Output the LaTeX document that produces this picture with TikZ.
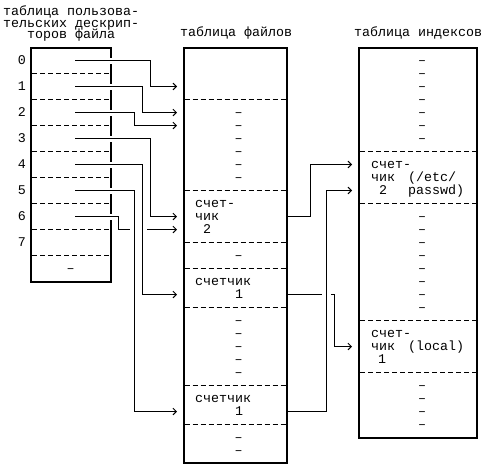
\documentclass[tikz,border=0pt]{standalone}
\usepackage{fontspec}
\setmainfont{Liberation Mono}
\usetikzlibrary{arrows.meta}
\begin{document}
\begin{tikzpicture}[x=0.75pt,y=-0.75pt,
  every node/.style={inner sep=0pt,outer sep=0pt,font=\fontsize{10pt}{12pt}\selectfont},
  txt/.style={anchor=base west},
  dsh/.style={anchor=base},
  border/.style={line width=1.5pt},
  bseg/.style={line width=1.5pt,line cap=rect},
  sep/.style={line width=0.75pt,dash pattern=on 3.75pt off 2.25pt},
  conn/.style={line width=0.75pt},
  arr/.style={conn,-{Straight Barb[length=2.5pt,width=5pt]}}]
\useasboundingbox (0,0) rectangle (485,468);
% ---------- titles ----------
\node[txt] (t1) at (3,15) {таблица пользова-};
\node[txt] (t2) at (3,27) {тельских дескрип-};
\node[txt] (t3) at (27,38.5) {торов файла};
\node[txt] (t4) at (180,36.5) {таблица файлов};
\node[txt] (t5) at (354,36.5) {таблица индексов};
% ---------- left table ----------
\draw[border] (111,48) -- (31,48) -- (31,282) -- (111,282);
\foreach \a/\b in {48/56.5,64.5/82.5,90.5/108.5,116.5/134.5,142.5/160.5,168.5/186.5,194.5/212.5,220.5/282}
  \draw[bseg] (111,\a) -- (111,\b);
\foreach \k in {0,...,7} {
  \draw[sep] (32,73.5+26*\k) -- (110,73.5+26*\k);
  \node[dsh] (n\k) at (22,64.5+26*\k) {\k};
}
\node[dsh] (ld) at (70.5,272) {–};
% ---------- file table ----------
\draw[border] (183.5,48) rectangle (286.5,462.5);
\foreach \y in {99.5,190.5,242.5,268.5,307.5,385.5,424.5}
  \draw[sep] (184.5,\y) -- (285.5,\y);
\foreach \y [count=\i] in {112.5,125.5,138.5,151.5,164.5,177.5,255.5,320.5,333.5,346.5,359.5,372.5,437.5,450.5}
  \node[dsh] (fd\i) at (238.5,\y+3.5) {–};
\node[txt] (fa1) at (195,207) {счет-};
\node[txt] (fa2) at (195,220) {чик};
\node[txt] (fa3) at (203,233.5) {2};
\node[txt] (fb1) at (195,285) {счетчик};
\node[txt] (fb2) at (235,298.5) {1};
\node[txt] (fc1) at (195,402) {счетчик};
\node[txt] (fc2) at (235,415.5) {1};
% ---------- index table ----------
\draw[border] (359,48) rectangle (477,438);
\foreach \y in {151.5,203.5,320.5,372.5}
  \draw[sep] (360,\y) -- (476,\y);
\foreach \y [count=\i] in {60.5,73.5,86.5,99.5,112.5,125.5,138.5,216.5,229.5,242.5,255.5,268.5,281.5,294.5,307.5,385.5,398.5,411.5,424.5}
  \node[dsh] (id\i) at (422,\y+3.5) {–};
\node[txt] (ia1) at (371,168) {счет-};
\node[txt] (ia2) at (371,181) {чик};
\node[txt] (ia3) at (408,181) {(/etc/};
\node[txt] (ia4) at (379,194.5) {2};
\node[txt] (ia5) at (408,194) {passwd)};
\node[txt] (ib1) at (371,337) {счет-};
\node[txt] (ib2) at (371,350) {чик};
\node[txt] (ib3) at (408,350) {(local)};
\node[txt] (ib4) at (378,363.5) {1};
% ---------- connector ends ----------
\foreach \k in {0,...,6} \coordinate (s\k) at (75,60.5+26*\k);
\coordinate (e0) at (177,86.5);
\coordinate (e1) at (177,112.5);
\coordinate (e2) at (177,125.5);
\coordinate (e3) at (177,216.5);
\coordinate (e4) at (177,294.5);
\coordinate (e5) at (177,411.5);
\coordinate (e6) at (177,229.5);
\coordinate (g6a) at (130,229.5);
\coordinate (g6b) at (147,229.5);
\coordinate (m1) at (286.5,216.5);
\coordinate (m2) at (286.5,294.5);
\coordinate (m3) at (286.5,411.5);
\coordinate (g3a) at (321.5,294.5);
\coordinate (g3b) at (331,294.5);
\coordinate (i1) at (352,164.5);
\coordinate (i2) at (352,190.5);
\coordinate (i3) at (352,346.5);
% ---------- connectors ----------
\draw[arr] (s0) -- ++(75.5,0) |- (e0);
\draw[arr] (s1) -- ++(67.5,0) |- (e1);
\draw[arr] (s2) -- ++(59.5,0) |- (e2);
\draw[arr] (s3) -- ++(75.5,0) |- (e3);
\draw[arr] (s4) -- ++(67.5,0) |- (e4);
\draw[arr] (s5) -- ++(59.5,0) |- (e5);
\draw[conn] (s6) -- ++(43.5,0) |- (g6a);
\draw[arr] (g6b) -- (e6);
\draw[arr] (m1) -- ++(23.5,0) |- (i1);
\draw[arr] (m3) -- ++(39.5,0) |- (i2);
\draw[conn] (m2) -- (g3a);
\draw[arr] (g3b) -- ++(3,0) |- (i3);
\end{tikzpicture}
\end{document}
